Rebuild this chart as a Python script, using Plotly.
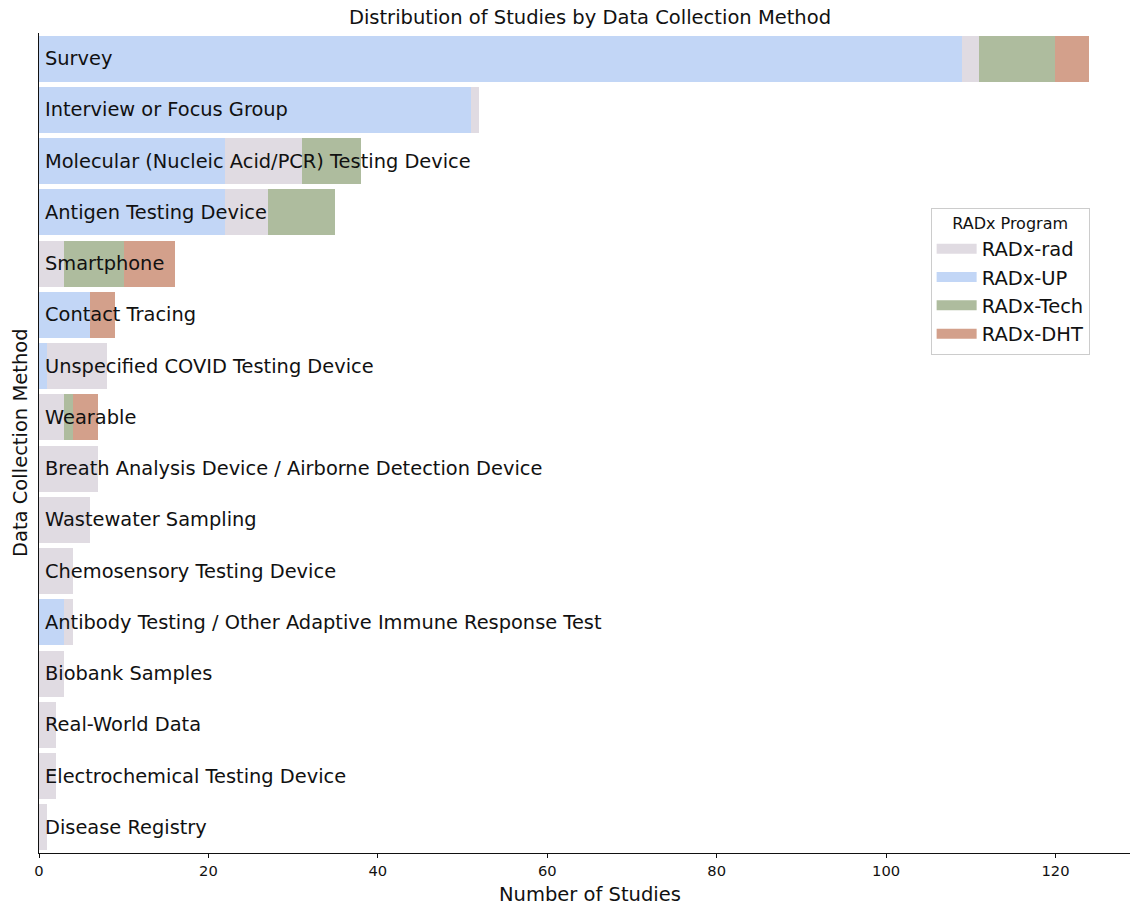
import plotly.graph_objects as go

categories = [
    "Survey", "Interview or Focus Group", "Molecular (Nucleic Acid/PCR) Testing Device",
    "Antigen Testing Device", "Smartphone", "Contact Tracing",
    "Unspecified COVID Testing Device", "Wearable",
    "Breath Analysis Device / Airborne Detection Device", "Wastewater Sampling",
    "Chemosensory Testing Device", "Antibody Testing / Other Adaptive Immune Response Test",
    "Biobank Samples", "Real-World Data", "Electrochemical Testing Device", "Disease Registry",
]
radx_up = [109, 51, 22, 22, 0, 6, 1, 0, 0, 0, 0, 3, 0, 0, 0, 0]
radx_rad = [2, 1, 9, 5, 3, 0, 7, 3, 7, 6, 4, 1, 3, 2, 2, 1]
radx_tech = [9, 0, 7, 8, 7, 0, 0, 1, 0, 0, 0, 0, 0, 0, 0, 0]
radx_dht = [4, 0, 0, 0, 6, 3, 0, 3, 0, 0, 0, 0, 0, 0, 0, 0]
x_ticks = [0, 20, 40, 60, 80, 100, 120]

series = [
    ("RADx-UP", radx_up, "#c2d6f6", 2),
    ("RADx-rad", radx_rad, "#e0dbe2", 1),
    ("RADx-Tech", radx_tech, "#aebc9e", 3),
    ("RADx-DHT", radx_dht, "#d3a08b", 4),
]

FONT = "DejaVu Sans"
fig = go.Figure()
for name, vals, color, rank in series:
    fig.add_trace(go.Bar(
        y=categories, x=vals, name=name, orientation="h",
        marker=dict(color=color, line=dict(width=0)), width=0.9,
        showlegend=False,
    ))
# legend-only entries with wide rectangular swatches
for name, vals, color, rank in series:
    fig.add_trace(go.Scatter(
        x=[None], y=[None], mode="lines", name=name,
        line=dict(color=color, width=15), legendrank=rank,
    ))

for c in categories:
    fig.add_annotation(x=0, y=c, xref="x", yref="y", text=c, showarrow=False,
                       xanchor="left", xshift=4, font=dict(family=FONT, size=19.4, color="#111"))

fig.add_annotation(xref="paper", yref="paper", x=0, y=0.5, xshift=-19,
                   xanchor="center", yanchor="middle",
                   text="Data Collection Method", textangle=-90, showarrow=False,
                   font=dict(family=FONT, size=19.5, color="#111"))
fig.add_annotation(xref="paper", yref="paper", x=0.505, y=-0.0512,
                   xanchor="center", yanchor="middle",
                   text="Number of Studies", showarrow=False,
                   font=dict(family=FONT, size=19.5, color="#111"))

W, H = 1131, 907
fig.update_layout(
    width=W, height=H, barmode="stack", bargap=0.1,
    plot_bgcolor="white", paper_bgcolor="white",
    margin=dict(l=39, r=1, t=33, b=54, autoexpand=False),
    title=dict(text="Distribution of Studies by Data Collection Method", x=0.505, xref="paper",
               xanchor="center", y=1 - 17 / H, yref="container", yanchor="middle",
               font=dict(family=FONT, size=19.5, color="#111")),
    font=dict(family=FONT, color="#111"),
    xaxis=dict(range=[0, 128.8], tickvals=x_ticks, ticks="outside", ticklen=4,
               tickcolor="#111", tickfont=dict(size=14.7), showgrid=False, zeroline=False,
               showline=True, linecolor="#111", linewidth=1.2),
    yaxis=dict(categoryorder="array", categoryarray=categories, autorange="reversed",
               showticklabels=False, ticks="", showgrid=False, zeroline=False,
               showline=True, linecolor="#111", linewidth=1.2),
    legend=dict(x=0.963, y=0.787, xanchor="right", yanchor="top",
                bgcolor="white", bordercolor="#cccccc", borderwidth=1,
                title=dict(text="RADx Program", side="top center", font=dict(size=16)),
                font=dict(size=19.5), traceorder="normal", itemwidth=40),
    showlegend=True,
)

fig.write_html("out.html", config={"displayModeBar": False},
               post_script="document.body.style.margin='0';document.body.style.overflow='hidden';")
